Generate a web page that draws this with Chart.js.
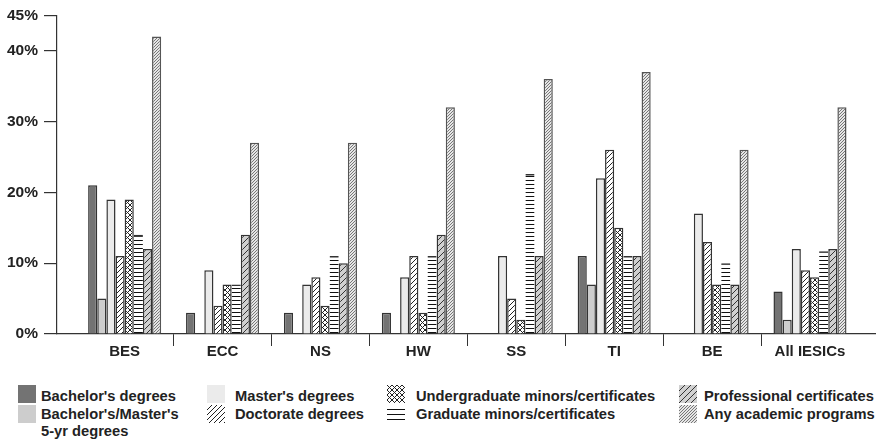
<!DOCTYPE html>
<html>
<head>
<meta charset="utf-8">
<script src="https://cdn.jsdelivr.net/npm/chart.js@4.4.1/dist/chart.umd.min.js"></script>
<style>
  html, body { margin: 0; padding: 0; background: #fff; }
  #wrap { position: relative; width: 879px; height: 439px; font-family: "Liberation Sans", Arial, sans-serif; font-weight: bold; color: #222; overflow: hidden; }
  #chartBox { position: absolute; left: 0; top: 0; width: 879px; height: 370px; }
  .icon { position: absolute; }
  .label { position: absolute; font-size: 14.7px; line-height: 17px; white-space: pre; }
</style>
</head>
<body>
<div id="wrap">
  <div id="chartBox"><canvas id="myChart"></canvas></div>
  <div id="legend"></div>
</div>
<script>
// values, in percent
const categories = ["BES", "ECC", "NS", "HW", "SS", "TI", "BE", "All IESICs"];
const bachelors = [21, 3, 3, 3, 0, 11, 0, 6];
const bachMasters5yr = [5, 0, 0, 0, 0, 7, 0, 2];
const masters = [19, 9, 7, 8, 11, 22, 17, 12];
const doctorate = [11, 4, 8, 11, 5, 26, 13, 9];
const ugMinors = [19, 7, 4, 3, 2, 15, 7, 8];
const gradMinors = [14, 7, 11, 11, 22.6, 11, 10, 11.7];
const professional = [12, 14, 10, 14, 11, 11, 7, 12];
const anyPrograms = [42, 27, 27, 32, 36, 37, 26, 32];
const yTicks = [0, 10, 20, 30, 40, 45];

const seriesNames = [
    "Bachelor's degrees",
    "Bachelor's/Master's\n5-yr degrees",
    "Master's degrees",
    "Doctorate degrees",
    "Undergraduate minors/certificates",
    "Graduate minors/certificates",
    "Professional certificates",
    "Any academic programs",
];
const seriesValues = [bachelors, bachMasters5yr, masters, doctorate, ugMinors, gradMinors, professional, anyPrograms];

// fill styles: [kind, background, line colour, tile size]
const fills = [
    ["solid", "#737373"],
    ["solid", "#cdcdcd"],
    ["solid", "#ebebeb"],
    ["diag", "#ffffff", "#222222", 5],
    ["cross", "#ffffff", "#222222", 5],
    ["hline", "rgba(255,255,255,0)", "#111111", 4],
    ["diag", "#d0d0d0", "#333333", 6],
    ["diag", "#e6e6e6", "#777777", 3],
];

function tile(f) {
    const [kind, bg, fg, s] = f;
    const c = document.createElement("canvas");
    c.width = s; c.height = s;
    const x = c.getContext("2d");
    x.fillStyle = bg;
    x.fillRect(0, 0, s, s);
    x.strokeStyle = fg;
    x.lineWidth = 1;
    x.beginPath();
    if (kind === "diag" || kind === "cross") {
        x.moveTo(0, s); x.lineTo(s, 0);
        x.moveTo(-1, 1); x.lineTo(1, -1);
        x.moveTo(s - 1, s + 1); x.lineTo(s + 1, s - 1);
    }
    if (kind === "cross") {
        x.moveTo(0, 0); x.lineTo(s, s);
        x.moveTo(-1, s - 1); x.lineTo(1, s + 1);
        x.moveTo(s - 1, -1); x.lineTo(s + 1, 1);
    }
    if (kind === "hline") {
        x.moveTo(0, 0.5); x.lineTo(s, 0.5);
    }
    x.stroke();
    return c;
}

function fillFor(ctx, f) {
    if (f[0] === "solid") return f[1];
    return ctx.createPattern(tile(f), "repeat");
}

const canvas = document.getElementById("myChart");
const cctx = canvas.getContext("2d");

const datasets = seriesValues.map((vals, i) => ({
    label: seriesNames[i].replace("\n", " "),
    data: vals,
    backgroundColor: fillFor(cctx, fills[i]),
    borderColor: i === 7 ? "#555555" : "#333333",
    borderWidth: i === 5 ? { top: 1.5, left: 0, right: 0, bottom: 0 } : 1.5,
    borderSkipped: "start",
}));

new Chart(canvas, {
    type: "bar",
    data: {
        labels: categories,
        datasets: datasets,
    },
    options: {
        responsive: true,
        maintainAspectRatio: false,
        animation: false,
        categoryPercentage: 0.746,
        barPercentage: 1,
        layout: { padding: { left: 0, top: 15, right: 4, bottom: 0 } },
        plugins: {
            legend: { display: false },
            tooltip: { enabled: false },
        },
        scales: {
            x: {
                offset: true,
                afterBuildTicks: (axis) => {
                    // leave a gap between the y axis and the first group, like the figure
                    axis._startValue = -0.691;
                    axis._valueRange = 8.355;
                },
                afterFit: (axis) => { axis.height = 36; },
                grid: {
                    offset: true,
                    drawOnChartArea: false,
                    tickLength: 12,
                    color: (ctx) => (ctx.type === "tick" && ctx.index > 0 ? "#333333" : "rgba(0,0,0,0)"),
                },
                border: { color: "#333333", width: 1.2 },
                ticks: {
                    color: "#222222",
                    font: { family: "Liberation Sans", size: 15, weight: "bold" },
                    padding: -3,
                    maxRotation: 0,
                    autoSkip: false,
                },
            },
            y: {
                min: 0,
                max: 45,
                afterBuildTicks: (axis) => {
                    axis.ticks = yTicks.map((v) => ({ value: v }));
                },
                afterFit: (axis) => { axis.width = 57; },
                grid: {
                    drawOnChartArea: false,
                    tickLength: 13,
                    color: "#333333",
                    lineWidth: 1.2,
                },
                border: { color: "#333333", width: 1.2 },
                ticks: {
                    color: "#222222",
                    font: { family: "Liberation Sans", size: 15.5, weight: "bold" },
                    padding: 6,
                    callback: (v) => v + "%",
                },
            },
        },
    },
});

// legend, laid out in columns like the figure
const legendCols = [0, 0, 1, 1, 2, 2, 3, 3];
const legendRows = [0, 1, 0, 1, 0, 1, 0, 1];
const iconX = [18, 207, 387, 679];
const textX = [41, 235, 416, 704];
const iconY = [385, 405];
const textY = [388, 406];

const legend = document.getElementById("legend");
seriesNames.forEach((name, i) => {
    const col = legendCols[i], row = legendRows[i];
    const ic = document.createElement("canvas");
    ic.width = 18; ic.height = 18;
    ic.className = "icon";
    ic.style.left = iconX[col] + "px";
    ic.style.top = iconY[row] + "px";
    const g = ic.getContext("2d");
    if (fills[i][0] === "hline") {
        g.strokeStyle = "#111111";
        g.lineWidth = 1;
        g.beginPath();
        [4.5, 9.5, 14.5].forEach((yy) => { g.moveTo(0, yy); g.lineTo(18, yy); });
        g.stroke();
    } else {
        g.fillStyle = fillFor(g, fills[i]);
        g.fillRect(0, 0, 18, 18);
    }
    legend.appendChild(ic);
    const t = document.createElement("div");
    t.className = "label";
    t.style.left = textX[col] + "px";
    t.style.top = textY[row] + "px";
    t.textContent = name;
    legend.appendChild(t);
});
</script>
</body>
</html>
